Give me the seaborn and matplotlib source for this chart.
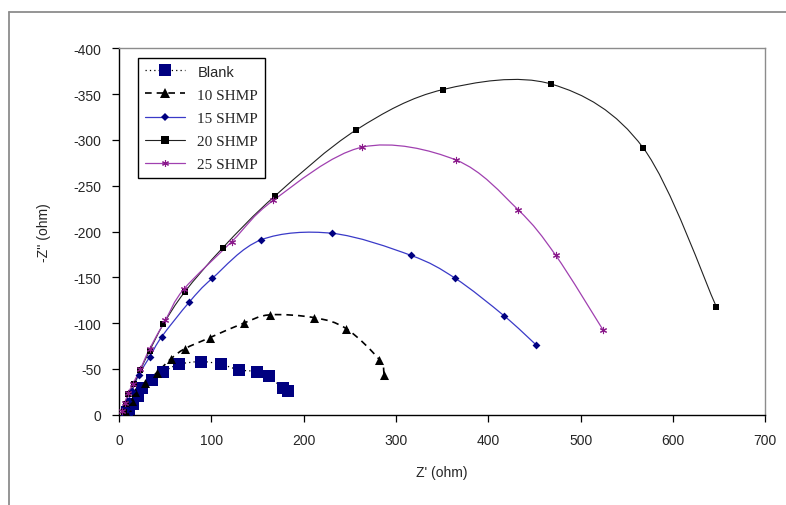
import numpy as np
import seaborn as sns
from matplotlib import pyplot as plt
from matplotlib.path import Path
from matplotlib.patches import PathPatch
from matplotlib.lines import Line2D

# Nyquist data (Z' and -Z'' in ohm)
blank_x = [8, 11, 15, 20, 25, 35, 48, 65, 89, 110, 130, 149, 162, 177, 183]
blank_y = [-3, -6, -12, -20, -29, -38, -47, -55, -58, -55, -49, -47, -42, -29, -26]

shmp10_x = [7, 8, 14, 17, 28, 41, 56, 71, 98, 135, 163, 211, 246, 282, 287]
shmp10_y = [-2, -8, -15, -25, -35, -46, -61, -72, -84, -100, -109, -106, -94, -60, -43]

shmp15_x = [8, 10, 14, 21, 33, 46, 76, 101, 154, 231, 316, 364, 417, 452]
shmp15_y = [-6, -15, -26, -43, -63, -85, -123, -149, -191, -198, -174, -149, -108, -76]

shmp20_x = [5, 7, 10, 16, 23, 33, 48, 71, 112, 169, 257, 351, 468, 568, 647]
shmp20_y = [-3, -12, -23, -34, -49, -70, -99, -134, -182, -239, -311, -355, -361, -291, -118]

shmp25_x = [3, 6, 10, 15, 23, 33, 50, 70, 122, 167, 263, 365, 432, 473, 524]
shmp25_y = [-4, -13, -24, -34, -50, -72, -103, -137, -189, -234, -292, -278, -224, -174, -93]

labels = ['Blank', '10 SHMP', '15 SHMP', '20 SHMP', '25 SHMP']
x_ticks = [0, 100, 200, 300, 400, 500, 600, 700]
y_ticks = [0, -50, -100, -150, -200, -250, -300, -350, -400]


def smooth_path(x, y):
    # excel style smoothed line: cubic bezier through every point
    pts = np.column_stack([x, y]).astype(float)
    n = len(pts)
    verts = [pts[0]]
    codes = [Path.MOVETO]
    for i in range(n - 1):
        p0 = pts[max(i - 1, 0)]
        p1 = pts[i]
        p2 = pts[i + 1]
        p3 = pts[min(i + 2, n - 1)]
        verts += [p1 + (p2 - p0) / 6, p2 - (p3 - p1) / 6, p2]
        codes += [Path.CURVE4] * 3
    return Path(verts, codes)


sns.set_style('white')
plt.rcParams['font.family'] = ['Liberation Sans', 'DejaVu Sans']
plt.rcParams['axes.unicode_minus'] = False

fig = plt.figure(figsize=(7.86, 5.06), dpi=100)
ax = fig.add_axes([119.2 / 786, 1 - 415.7 / 506, 646 / 786, 366.4 / 506])

# outer chart frame: only its top and left edges show in the reference
frame_x = 8.5 / 786
frame_y = 1 - 13 / 506
fig.add_artist(Line2D([frame_x, 1], [frame_y, frame_y], transform=fig.transFigure,
                      color='#8c8c8c', linewidth=1.3))
fig.add_artist(Line2D([frame_x, frame_x], [0, frame_y], transform=fig.transFigure,
                      color='#8c8c8c', linewidth=1.3))

star = (6, 2, 0)
series = [
    dict(x=blank_x, y=blank_y, lc='black', ls=(0, (1, 2.5)), lw=0.9,
         mk='s', mc='#000080', ms=8.5),
    dict(x=shmp10_x, y=shmp10_y, lc='black', ls=(0, (4, 3)), lw=1.2,
         mk='^', mc='black', ms=6.5),
    dict(x=shmp15_x, y=shmp15_y, lc='#3a3ac8', ls='-', lw=0.9,
         mk='D', mc='#000080', ms=4),
    dict(x=shmp20_x, y=shmp20_y, lc='#222222', ls='-', lw=0.8,
         mk='s', mc='black', ms=5),
    dict(x=shmp25_x, y=shmp25_y, lc='#a040b0', ls='-', lw=0.9,
         mk=star, mc='#8a1a8a', ms=4.5),
]

handles = []
for s, lab in zip(series, labels):
    ax.add_patch(PathPatch(smooth_path(s['x'], s['y']), fill=False,
                           edgecolor=s['lc'], linestyle=s['ls'],
                           linewidth=s['lw'], zorder=2))
    if s['mk'] == star:
        sns.scatterplot(x=s['x'], y=s['y'], ax=ax, marker=s['mk'],
                        s=s['ms'] ** 2, color=s['mc'], edgecolor=s['mc'],
                        linewidth=0.8, zorder=3, legend=False)
    else:
        sns.scatterplot(x=s['x'], y=s['y'], ax=ax, marker=s['mk'],
                        s=s['ms'] ** 2, color=s['mc'], linewidth=0,
                        zorder=3, legend=False)
    handles.append(Line2D([], [], color=s['lc'], linestyle=s['ls'],
                          linewidth=s['lw'], marker=s['mk'],
                          markersize=s['ms'] * (0.95 if lab == 'Blank' else 1.1),
                          markeredgewidth=0.8 if s['mk'] == star else 0,
                          markerfacecolor=s['mc'], markeredgecolor=s['mc']))

ax.set_xlim(0, 700)
ax.set_ylim(0, -400)
ax.set_xticks(x_ticks)
ax.set_yticks(y_ticks)
ax.tick_params(axis='both', which='major', direction='out', length=5,
               width=0.9, color='black', labelsize=10,
               bottom=True, left=True)
ax.tick_params(axis='x', pad=8)
ax.tick_params(axis='y', pad=8)
for side in ['left', 'bottom']:
    ax.spines[side].set_color('black')
    ax.spines[side].set_linewidth(1.0)
for side in ['top', 'right']:
    ax.spines[side].set_color('#8c8c8c')
    ax.spines[side].set_linewidth(1.0)

ax.set_xlabel("Z' (ohm)", fontsize=10, labelpad=13)
ax.set_ylabel("-Z'' (ohm)", fontsize=10, labelpad=16)

leg = ax.legend(handles, labels, loc='upper left',
                bbox_to_anchor=(0.018, 0.995), frameon=True, fancybox=False,
                edgecolor='black', framealpha=1, handlelength=2.6,
                handletextpad=0.8, labelspacing=0.62, borderpad=0.45,
                fontsize=11)
leg.get_frame().set_linewidth(1.0)
for t in leg.get_texts()[1:]:
    t.set_fontfamily(['Liberation Serif', 'DejaVu Serif'])
leg.get_texts()[0].set_fontsize(10.5)

fig.savefig('out.png', dpi=100)
